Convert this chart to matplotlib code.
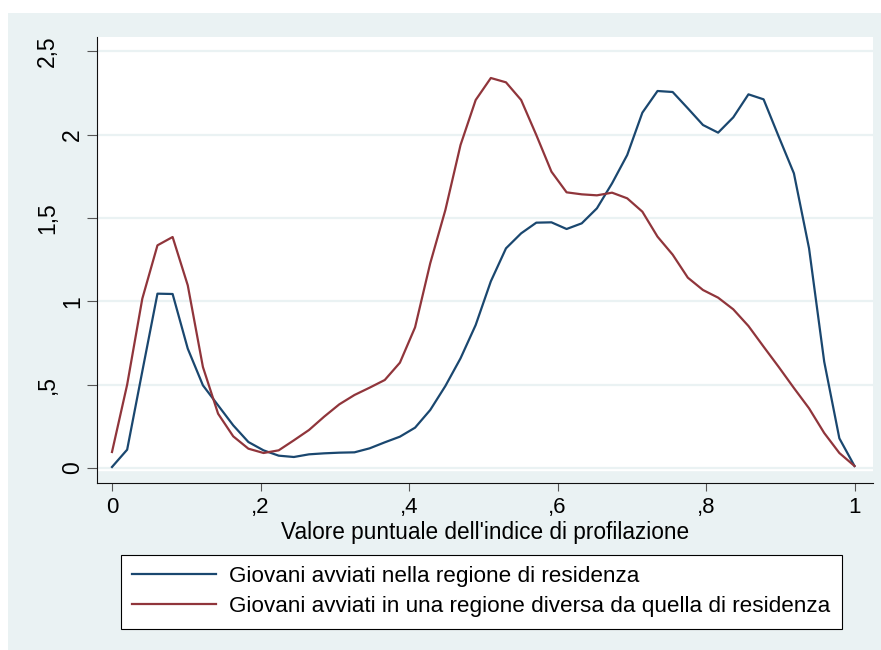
import matplotlib
matplotlib.use("Agg")
import matplotlib.pyplot as plt
import matplotlib.transforms as mtransforms
import numpy as np
from matplotlib.patches import Rectangle

plt.rcParams['font.family'] = ['Liberation Sans', 'DejaVu Sans']

# density evaluated at 50 points between 0 and 1
x = np.linspace(0, 1, 50)
stessa_regione = [0.006, 0.11, 0.58, 1.046, 1.044, 0.716, 0.496, 0.376, 0.256, 0.156,
                  0.106, 0.074, 0.066, 0.082, 0.088, 0.092, 0.094, 0.118, 0.154, 0.188,
                  0.242, 0.348, 0.492, 0.658, 0.858, 1.12, 1.318, 1.408, 1.472, 1.474,
                  1.434, 1.468, 1.558, 1.708, 1.878, 2.132, 2.262, 2.256, 2.158, 2.058,
                  2.012, 2.104, 2.242, 2.212, 1.988, 1.768, 1.318, 0.638, 0.178, 0.012]
altra_regione = [0.096, 0.50, 1.016, 1.336, 1.386, 1.096, 0.606, 0.326, 0.19, 0.116,
                 0.09, 0.106, 0.166, 0.228, 0.308, 0.382, 0.438, 0.482, 0.528, 0.632,
                 0.844, 1.228, 1.548, 1.938, 2.208, 2.34, 2.314, 2.208, 1.998, 1.778,
                 1.654, 1.642, 1.636, 1.652, 1.618, 1.538, 1.388, 1.28, 1.142, 1.068,
                 1.022, 0.952, 0.852, 0.728, 0.606, 0.48, 0.358, 0.21, 0.09, 0.012]
labels = ["Giovani avviati nella regione di residenza",
          "Giovani avviati in una regione diversa da quella di residenza"]
xticks = [0, 0.2, 0.4, 0.6, 0.8, 1]
xticklabels = ["0", ",2", ",4", ",6", ",8", "1"]
yticks = [0, 0.5, 1, 1.5, 2, 2.5]
yticklabels = ["0", ",5", "1", "1,5", "2", "2,5"]

bg = "#EAF2F3"
W, H = 881, 650
fig = plt.figure(figsize=(W / 100, H / 100), dpi=100, facecolor="white")
fig.patches.append(Rectangle((8 / W, 0), 1, (H - 13) / H, transform=fig.transFigure,
                             facecolor=bg, edgecolor="none", zorder=-5))

ax = fig.add_axes([97 / W, (H - 483) / H, 776 / W, 446 / H])
ax.set_facecolor(bg)
ax.set_xlim(-0.0202, 1.0249)
ax.set_ylim(-0.09, 2.586)
ax.axhspan(-0.012, 2.586, color="white", zorder=0)
for yt in yticks:
    ax.axhline(yt, color=bg, lw=1.6, zorder=1)

ax.plot(x, stessa_regione, color="#1A476F", lw=1.6, label=labels[0], zorder=3)
ax.plot(x, altra_regione, color="#90353B", lw=1.6, label=labels[1], zorder=3)

ax.set_xticks(xticks)
ax.set_xticklabels(xticklabels)
ax.set_yticks(yticks)
ax.set_yticklabels([])
ax.tick_params(axis="both", direction="out", width=0.8, color="#555555",
               labelsize=16, pad=4)
ax.tick_params(axis="x", length=6)
ax.tick_params(axis="y", length=7)
for s in ["top", "right"]:
    ax.spines[s].set_visible(False)
for s in ["left", "bottom"]:
    ax.spines[s].set_color("#111111")
    ax.spines[s].set_linewidth(0.8)
ax.set_xlabel("Valore puntuale dell'indice di profilazione", fontsize=16.3, labelpad=2)

# rotated y labels, placed like the Stata output
trans = mtransforms.blended_transform_factory(fig.transFigure, ax.transData)
for yt, lab in zip(yticks, yticklabels):
    xb = 79 if len(lab) == 1 else 54
    ax.text(xb / W, yt, lab, transform=trans, rotation=90, rotation_mode="anchor",
            ha="center", va="baseline", fontsize=16.5, clip_on=False)

leg = fig.legend(loc="upper left", bbox_to_anchor=(121 / W, (H - 555) / H),
                 borderaxespad=0, fontsize=16.2, frameon=True, fancybox=False,
                 framealpha=1, handlelength=3.73, handletextpad=0.58,
                 borderpad=0.5, labelspacing=0.4)
leg.get_frame().set_edgecolor("black")
leg.get_frame().set_facecolor("white")
leg.get_frame().set_linewidth(0.8)

fig.savefig("out.png", dpi=100)
